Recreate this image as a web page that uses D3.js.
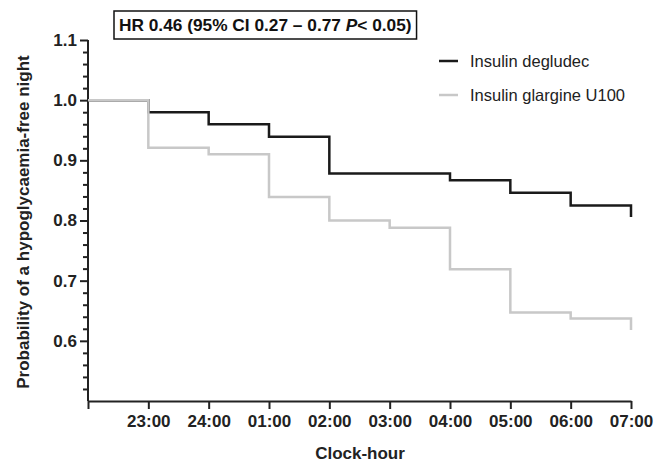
<!DOCTYPE html>
<html>
<head>
<meta charset="utf-8">
<script src="https://cdn.jsdelivr.net/npm/d3@7"></script>
<style>
    body { margin: 0; background: #fff; }
    svg { display: block; font-family: 'Liberation Sans', Arial, sans-serif; }
</style>
</head>
<body>
<svg id="chart" width="654" height="462"></svg>
<script>
// clock hours, 22:00 is the unlabelled origin
const hours = ['22:00', '23:00', '24:00', '01:00', '02:00', '03:00', '04:00', '05:00', '06:00', '07:00'];
// probability during each hour interval, then the value after the last drop
const degludec = [1.0, 0.98, 0.96, 0.939, 0.878, 0.878, 0.867, 0.846, 0.825];
const degludecEnd = 0.806;
const glargine = [1.0, 0.921, 0.91, 0.839, 0.8, 0.788, 0.719, 0.647, 0.637];
const glargineEnd = 0.618;
const yTicks = [0.6, 0.7, 0.8, 0.9, 1.0, 1.1];
const seriesNames = ['Insulin degludec', 'Insulin glargine U100'];
const seriesColors = ['#1a1a1a', '#c8c8c8'];

const svg = d3.select('#chart');
const margin = { left: 88, top: 40, right: 23, bottom: 61 };
const width = 654, height = 462;

const x = d3.scalePoint().domain(hours).range([margin.left, width - margin.right]);
const y = d3.scaleLinear().domain([0.5, 1.1]).range([height - margin.bottom, margin.top]);

// y axis: major + minor ticks
const yMinor = d3.range(0.52, 1.1, 0.02).filter((v) => !yTicks.some((t) => Math.abs(t - v) < 1e-6));
svg.append('g')
    .attr('transform', `translate(${margin.left},0)`)
    .call(d3.axisLeft(y).tickValues(yMinor).tickSize(5).tickFormat(''))
    .call((g) => g.select('.domain').remove())
    .call((g) => g.selectAll('line').attr('stroke', '#222').attr('stroke-width', 2));

svg.append('g')
    .attr('transform', `translate(${margin.left},0)`)
    .call(d3.axisLeft(y).tickValues(yTicks).tickSize(8).tickPadding(3).tickFormat(d3.format('.1f')))
    .call((g) => g.select('.domain').attr('d', `M0,${y(1.1)}V${y(0.5)}`).attr('stroke', '#222').attr('stroke-width', 2))
    .call((g) => g.selectAll('line').attr('stroke', '#222').attr('stroke-width', 2))
    .call((g) => g.selectAll('text').attr('font-size', 17).attr('font-weight', 'bold').attr('fill', '#222').attr('font-family', null));

// x axis
svg.append('g')
    .attr('transform', `translate(0,${y(0.5)})`)
    .call(d3.axisBottom(x).tickSize(8).tickPadding(6).tickSizeOuter(0).tickFormat((d, i) => (i === 0 ? '' : d)))
    .call((g) => g.select('.domain').attr('stroke', '#222').attr('stroke-width', 2))
    .call((g) => g.selectAll('line').attr('stroke', '#222').attr('stroke-width', 2))
    .call((g) => g.selectAll('text').attr('font-size', 17).attr('font-weight', 'bold').attr('fill', '#222').attr('font-family', null));

// step curves
const stepPoints = (vals, end) => {
    const pts = vals.map((v, i) => [hours[i], v]);
    pts.push([hours[hours.length - 1], vals[vals.length - 1]]);
    pts.push([hours[hours.length - 1], end]);
    return pts;
};
const line = d3.line().x((d) => x(d[0])).y((d) => y(d[1])).curve(d3.curveStepAfter);

[[degludec, degludecEnd], [glargine, glargineEnd]].forEach(([vals, end], i) => {
    svg.append('path')
        .attr('d', line(stepPoints(vals, end)))
        .attr('fill', 'none')
        .attr('stroke', seriesColors[i])
        .attr('stroke-width', 2.5);
});

// legend
const legend = svg.append('g').attr('transform', 'translate(439,61)');
seriesNames.forEach((name, i) => {
    const row = legend.append('g').attr('transform', `translate(0,${i * 34})`);
    row.append('line').attr('x1', 0).attr('x2', 19).attr('stroke', seriesColors[i]).attr('stroke-width', 2.5);
    row.append('text').attr('x', 31).attr('dy', '0.35em').attr('font-size', 16.5).attr('fill', '#222').text(name);
});

// hazard ratio box
const hr = svg.append('text').attr('x', 119).attr('y', 31).attr('font-size', 17.3).attr('font-weight', 'bold').attr('fill', '#111');
hr.append('tspan').text('HR 0.46 (95% CI 0.27 \u2013 0.77 ');
hr.append('tspan').attr('font-style', 'italic').text('P');
hr.append('tspan').text('< 0.05)');
const bb = hr.node().getBBox();
svg.append('rect')
    .attr('x', bb.x - 5).attr('y', 11)
    .attr('width', bb.width + 10).attr('height', 28)
    .attr('fill', 'none').attr('stroke', '#111').attr('stroke-width', 1.5);

// axis titles
svg.append('text')
    .attr('transform', `translate(29,${(y(0.5) + 43) / 2}) rotate(-90)`)
    .attr('text-anchor', 'middle').attr('font-size', 17).attr('font-weight', 'bold').attr('fill', '#222')
    .text('Probability of a hypoglycaemia-free night');

svg.append('text')
    .attr('x', 360).attr('y', 459)
    .attr('text-anchor', 'middle').attr('font-size', 17).attr('font-weight', 'bold').attr('fill', '#222')
    .text('Clock-hour');
</script>
</body>
</html>
